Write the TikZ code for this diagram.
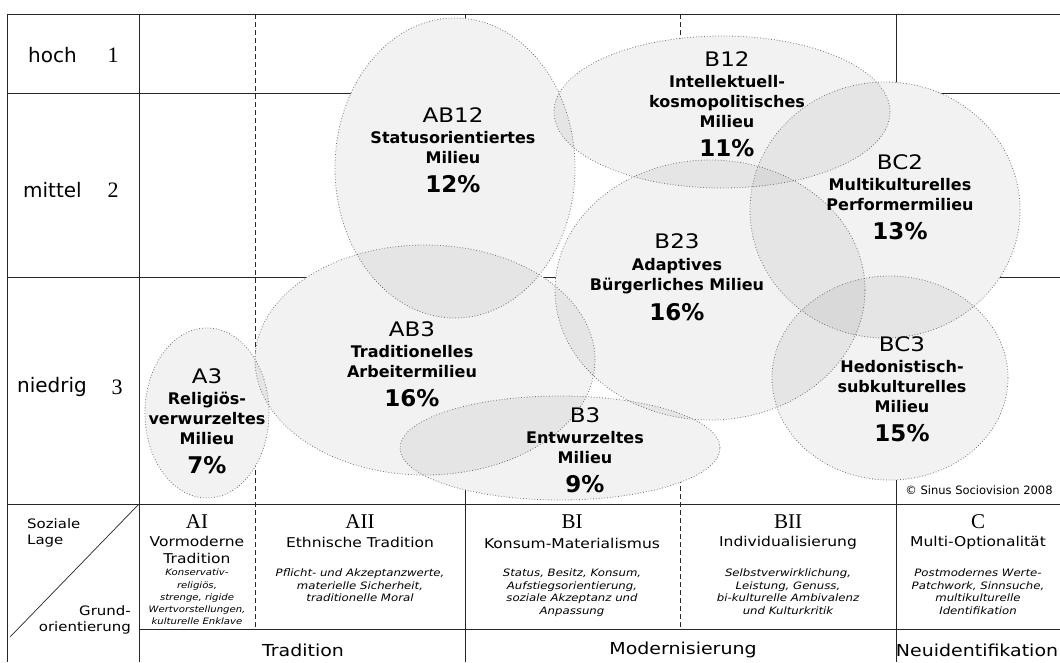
\documentclass[tikz,border=0pt]{standalone}
\usepackage{fontspec}
\setmainfont{DejaVu Sans}
\newfontfamily\widefont{DejaVu Sans}[FakeStretch=1.15]
\newfontfamily\codefont{Liberation Serif}
\usetikzlibrary{shapes.geometric, positioning}

\begin{document}
\begin{tikzpicture}[
    x = 1pt, y = -1pt,
    every node/.style = {inner sep = 0pt},
    grid/.style = {line width = 0.7pt, black!85},
    coldash/.style = {grid, dash pattern = on 5pt off 3pt},
    blob/.style = {ellipse, draw = black!55, dotted, line width = 0.8pt,
                   fill = black, fill opacity = 0.05},
    mcode/.style = {font = \widefont\fontsize{20}{22}\selectfont},
    mname/.style = {font = \bfseries\fontsize{16}{20}\selectfont, align = center},
    mpct/.style  = {font = \bfseries\fontsize{23}{25}\selectfont},
    rowlab/.style = {font = \fontsize{20}{22}\selectfont, anchor = west},
    rownum/.style = {font = \codefont\fontsize{22}{24}\selectfont},
    hcode/.style = {font = \codefont\fontsize{21}{22}\selectfont},
    hsub/.style  = {font = \widefont\fontsize{13.5}{17}\selectfont, align = center},
    hdesc/.style = {font = \widefont\itshape\fontsize{10.2}{12.4}\selectfont,
                    align = center, anchor = north},
    blab/.style  = {font = \widefont\fontsize{16.5}{18}\selectfont},
    lhead/.style = {font = \widefont\fontsize{13}{16}\selectfont}
  ]
  \fill[white] (0,0) rectangle (1060,662);
  \useasboundingbox (0,0) rectangle (1060,662);

  % Grid
  \draw[grid] (7,14) -- (1060,14);
  \draw[grid] (7,93) -- (1060,93);
  \draw[grid] (7,277) -- (1060,277);
  \draw[grid] (7,504) -- (1060,504);
  \draw[grid] (139,629) -- (1060,629);
  \draw[grid] (7,14) -- (7,662);
  \foreach \x in {139, 465, 896}
    \draw[grid] (\x,14) -- (\x,662);
  \foreach \x in {255, 680}
    \draw[coldash] (\x,14) -- (\x,629);
  \draw[grid] (139,504) -- (10,637);

  % Milieus
  \foreach \x/\y/\rx/\ry in {455/168/120/150, 722/112/168/76, 710/290/155/130,
      885/210/135/128, 890/378/118/102, 425/360/170/115, 207/413/62/85, 560/448/160/52}
    \fill[white] (\x,\y) ellipse [x radius = \rx pt, y radius = \ry pt];
  \node[blob, minimum width = 240pt, minimum height = 300pt] (ab12e) at (455,168) {};
  \node[blob, minimum width = 336pt, minimum height = 152pt] (b12e)  at (722,112) {};
  \node[blob, minimum width = 310pt, minimum height = 260pt] (b23e)  at (710,290) {};
  \node[blob, minimum width = 270pt, minimum height = 256pt] (bc2e)  at (885,210) {};
  \node[blob, minimum width = 236pt, minimum height = 204pt] (bc3e)  at (890,378) {};
  \node[blob, minimum width = 340pt, minimum height = 230pt] (ab3e)  at (425,360) {};
  \node[blob, minimum width = 124pt, minimum height = 170pt] (a3e)   at (207,413) {};
  \node[blob, minimum width = 320pt, minimum height = 104pt] (b3e)   at (560,448) {};

  % Milieu labels
  \node[mname] (ab12) at (453,148) {Statusorientiertes\\Milieu};
  \node[mcode, above = 9pt of ab12] (ab12c) {AB12};
  \node[mpct, below = 11pt of ab12] (ab12p) {12\%};

  \node[mname] (b12) at (727,102) {Intellektuell-\\kosmopolitisches\\Milieu};
  \node[mcode, above = 9pt of b12] (b12c) {B12};
  \node[mpct, below = 11pt of b12] (b12p) {11\%};

  \node[mname] (bc2) at (900,195) {Multikulturelles\\Performermilieu};
  \node[mcode, above = 9pt of bc2] (bc2c) {BC2};
  \node[mpct, below = 11pt of bc2] (bc2p) {13\%};

  \node[mname] (b23) at (677,276) {Adaptives\\Bürgerliches Milieu};
  \node[mcode, above = 9pt of b23] (b23c) {B23};
  \node[mpct, below = 9pt of b23] (b23p) {16\%};

  \node[mname] (ab3) at (412,362) {Traditionelles\\Arbeitermilieu};
  \node[mcode, above = 9pt of ab3] (ab3c) {AB3};
  \node[mpct, below = 11pt of ab3] (ab3p) {16\%};

  \node[mname] (a3) at (207,418) {Religiös-\\verwurzeltes\\Milieu};
  \node[mcode, above = 8pt of a3] (a3c) {A3};
  \node[mpct, below = 12pt of a3] (a3p) {7\%};

  \node[mname] (b3) at (585,448) {Entwurzeltes\\Milieu};
  \node[mcode, above = 9pt of b3] (b3c) {B3};
  \node[mpct, below = 11pt of b3] (b3p) {9\%};

  \node[mname] (bc3) at (902,387) {Hedonistisch-\\subkulturelles\\Milieu};
  \node[mcode, above = 9pt of bc3] (bc3c) {BC3};
  \node[mpct, below = 11pt of bc3] (bc3p) {15\%};

  \node[font = \fontsize{11.5}{13}\selectfont] (copy) at (979,490) {© Sinus Sociovision 2008};

  % Soziale Lage
  \node[rowlab] (hoch) at (28,55) {hoch};
  \node[rownum] (n1) at (113,55) {1};
  \node[rowlab] (mittel) at (23,190) {mittel};
  \node[rownum] (n2) at (113,190) {2};
  \node[rowlab] (niedrig) at (17,387) {niedrig};
  \node[rownum] (n3) at (117,387) {3};

  % Grundorientierung
  \node[lhead, align = left, anchor = north west] (soziale) at (27,518) {Soziale\\Lage};
  \node[lhead, align = right, anchor = south east] (grund) at (131,634) {Grund-\\orientierung};

  \node[hcode] (ai) at (197,522) {AI};
  \node[hsub] (aisub) at (197,550) {Vormoderne\\Tradition};
  \node[hdesc, font = \widefont\itshape\fontsize{8.8}{12.2}\selectfont] (aidesc) at (197,569)
    {Konservativ-\\religiös,\\strenge, rigide\\Wertvorstellungen,\\kulturelle Enklave};

  \node[hcode] (aii) at (360,522) {AII};
  \node[hsub] (aiisub) at (360,542) {Ethnische Tradition};
  \node[hdesc] (aiidesc) at (360,569)
    {Pflicht- und Akzeptanzwerte,\\materielle Sicherheit,\\traditionelle Moral};

  \node[hcode] (bi) at (572,522) {BI};
  \node[hsub] (bisub) at (572,543) {Konsum-Materialismus};
  \node[hdesc] (bidesc) at (572,569)
    {Status, Besitz, Konsum,\\Aufstiegsorientierung,\\soziale Akzeptanz und\\Anpassung};

  \node[hcode] (bii) at (788,522) {BII};
  \node[hsub] (biisub) at (788,543) {Individualisierung};
  \node[hdesc] (biidesc) at (788,569)
    {Selbstverwirklichung,\\Leistung, Genuss,\\bi-kulturelle Ambivalenz\\und Kulturkritik};

  \node[hcode] (c) at (978,522) {C};
  \node[hsub] (csub) at (978,543) {Multi-Optionalität};
  \node[hdesc] (cdesc) at (978,569)
    {Postmodernes Werte-\\Patchwork, Sinnsuche,\\multikulturelle\\Identifikation};

  \node[blab] (trad) at (303,650) {Tradition};
  \node[blab] (mod) at (683,650) {Modernisierung};
  \node[blab] (neu) at (977,650) {Neuidentifikation};
\end{tikzpicture}
\end{document}
